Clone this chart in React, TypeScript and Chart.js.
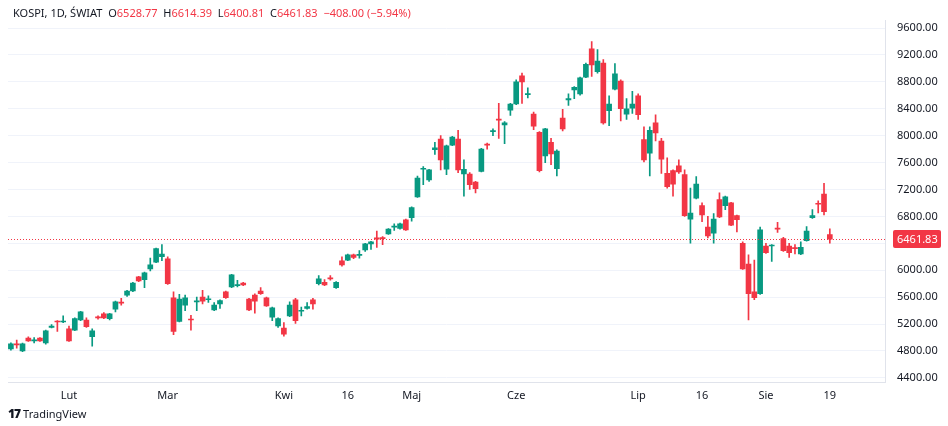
import React, { useEffect, useRef } from "react";
import { Chart, registerables } from "chart.js";
Chart.register(...registerables);

const opens = [4830,4900,4800,4990,4950,4990,4920,5150,5240,5230,5130,5110,5260,5260,5010,5300,5350,5280,5420,5520,5630,5690,5900,5860,6020,6120,6200,6170,5590,5240,5480,5270,5530,5600,5560,5410,5500,5680,5750,5770,5810,5570,5630,5690,5590,5300,5170,5140,5320,5560,5390,5430,5560,5800,5820,5880,5740,6140,6150,6230,6220,6300,6390,6480,6480,6540,6640,6620,6750,6780,7090,7500,7340,7790,7950,7500,7860,7950,7430,7430,7310,7470,7870,8060,8240,8160,8380,8470,8890,8610,8320,8050,7700,7900,7510,8260,8530,8680,8620,8870,9290,8950,9080,8370,8690,8810,8320,8410,8590,7940,7740,8190,7920,7440,7480,7550,7420,6760,7070,6960,6640,6550,7050,6960,7000,6810,6400,6090,5680,5650,6360,6360,6620,6470,6360,6330,6240,6440,6780,6990,7130,6528.77];
const closes = [4905,4890,4905,4950,4965,4950,5100,5170,5230,5240,4950,5280,5380,5160,5100,5290,5290,5350,5530,5510,5690,5810,5840,5960,6080,6320,6240,5800,5090,5570,5590,5260,5530,5540,5570,5480,5550,5590,5930,5770,5780,5410,5540,5650,5470,5440,5280,5050,5480,5250,5400,5460,5500,5870,5780,5870,5820,6080,6230,6190,6230,6390,6420,6460,6470,6610,6640,6690,6600,6930,7370,7500,7490,7820,7640,7850,7980,7490,7500,7270,7210,7800,7860,8070,8230,8190,8470,8800,8800,8620,8140,7480,8100,7730,7770,8100,8550,8720,8860,9060,9050,9110,8190,8470,8920,8400,8400,8470,8310,7640,8080,8040,7650,7240,7280,7460,6810,6850,7280,6820,6510,6760,6790,7090,6670,6750,6020,5650,5590,6600,6260,6360,6610,6290,6260,6320,6340,6580,6810,6980,6870,6461.83];
const highs = [4920,4960,4915,5010,5000,5000,5110,5190,5250,5320,5170,5290,5390,5290,5130,5320,5370,5360,5540,5580,5700,5820,5910,5970,6180,6330,6380,6200,5680,5640,5630,5330,5600,5700,5620,5520,5560,5690,5940,5850,5820,5580,5650,5740,5600,5450,5290,5220,5530,5580,5450,5520,5580,5920,5860,5920,5830,6200,6240,6240,6290,6400,6430,6580,6500,6620,6690,6700,6760,6940,7400,7540,7500,7900,8000,7860,7990,8080,7640,7450,7320,7810,7890,8100,8480,8210,8480,8830,8930,8710,8350,8060,8110,7960,7790,8390,8620,8730,8870,9080,9400,9280,9130,8590,9070,8830,8550,8660,8620,8130,8130,8310,7960,7670,7490,7640,7490,7220,7390,7000,6800,6840,7150,7100,7010,6820,6420,6230,6150,6640,6400,6380,6710,6490,6400,6380,6420,6650,6900,7030,7290,6614.39];
const lows = [4810,4840,4790,4940,4920,4940,4900,5140,5090,5220,4940,5100,5250,5150,4870,5270,5280,5260,5380,5480,5610,5680,5830,5740,5990,6110,6140,5790,5040,5230,5400,5110,5400,5500,5520,5400,5430,5580,5740,5750,5770,5400,5360,5640,5460,5250,5150,5020,5310,5210,5320,5420,5420,5780,5770,5850,5730,6060,6140,6170,6180,6280,6310,6340,6380,6530,6590,6610,6590,6730,7080,7270,7320,7720,7490,7420,7850,7450,7100,7200,7150,7460,7800,8000,7960,7880,8300,8460,8480,8560,8090,7460,7600,7570,7400,8070,8450,8550,8600,8860,8880,8930,8170,8150,8680,8220,8240,8330,8240,7610,7400,7920,7440,7220,7100,7440,6800,6400,7060,6720,6480,6400,6780,6900,6660,6570,6010,5260,5560,5640,6250,6130,6560,6280,6190,6240,6230,6430,6770,6850,6820,6400.81];
const tickLabels: Record<number, string> = { 10: "Lut", 27: "Mar", 47: "Kwi", 58: "16", 69: "Maj", 87: "Cze", 108: "Lip", 119: "16", 130: "Sie", 141: "19" };
const SLOTS = 151;
const lastPrice = 6461.83;

const GREEN = "#089981";
const RED = "#F23645";

export default function App() {
  const ref = useRef<HTMLCanvasElement>(null);
  useEffect(() => {
    const labels = Array.from({ length: SLOTS }, (_, i) => tickLabels[i] ?? "");
    const colors = opens.map((o, i) => (closes[i] >= o ? GREEN : RED));
    const priceLine = {
      id: "priceLine",
      afterDatasetsDraw(chart: any) {
        const { ctx, chartArea, scales } = chart;
        const y = scales.y.getPixelForValue(lastPrice);
        ctx.save();
        ctx.strokeStyle = RED;
        ctx.lineWidth = 1;
        ctx.setLineDash([1, 2]);
        ctx.beginPath();
        ctx.moveTo(chartArea.left, Math.round(y) + 0.5);
        ctx.lineTo(chartArea.right, Math.round(y) + 0.5);
        ctx.stroke();
        ctx.setLineDash([]);
        ctx.fillStyle = RED;
        const x0 = chartArea.right + 8;
        ctx.beginPath();
        (ctx as any).roundRect(x0, y - 9, 48, 18, 2);
        ctx.fill();
        ctx.fillStyle = "#fff";
        ctx.font = "11px 'Noto Sans', sans-serif";
        ctx.textBaseline = "middle";
        ctx.fillText(lastPrice.toFixed(2), x0 + 4, y + 0.5);
        ctx.restore();
      },
    };
    const chart = new Chart(ref.current!, {
      type: "bar",
      data: {
        labels,
        datasets: [
          {
            data: lows.map((l, i) => [l, highs[i]]) as any,
            backgroundColor: colors,
            barThickness: 1,
            grouped: false,
            order: 2,
          },
          {
            data: opens.map((o, i) => [o, closes[i]]) as any,
            backgroundColor: colors,
            barThickness: 5,
            minBarLength: 1,
            grouped: false,
            order: 1,
          },
        ],
      },
      options: {
        animation: false,
        responsive: true,
        maintainAspectRatio: false,
        layout: { padding: { left: 8, top: 20, right: 0, bottom: 18 } },
        plugins: { legend: { display: false }, tooltip: { enabled: false } },
        scales: {
          x: {
            grid: {
              color: (c: any) => (labels[c.index] ? "#f0f3fa" : "rgba(0,0,0,0)"),
              drawTicks: false,
            },
            border: { color: "#e0e3eb" },
            ticks: {
              autoSkip: false,
              maxRotation: 0,
              padding: 6,
              color: "#131722",
              font: { size: 11, family: "'Noto Sans', sans-serif" },
              callback: (_v: any, i: number) => labels[i] || null,
            },
          },
          y: {
            position: "right",
            min: 4326,
            max: 9719,
            afterBuildTicks: (s: any) => {
              const t = [];
              for (let v = 4400; v <= 9600; v += 400) t.push({ value: v });
              s.ticks = t;
            },
            afterFit: (s: any) => { s.width = 63; },
            grid: { color: "#f0f3fa", drawTicks: false },
            border: { color: "#e0e3eb" },
            ticks: {
              padding: 12,
              color: "#131722",
              font: { size: 11, family: "'Noto Sans', sans-serif" },
              callback: (v: any) => Number(v).toFixed(2),
            },
          },
        },
      },
      plugins: [priceLine],
    });
    return () => chart.destroy();
  }, []);
  const font = "'Noto Sans', sans-serif";
  return (
    <div style={{ position: "fixed", left: 0, top: 0, width: 948, height: 426, background: "#fff", fontFamily: font }}>
      <canvas ref={ref} />
      <div style={{ position: "absolute", left: 13, top: 5, fontSize: 11, color: "#131722", whiteSpace: "pre" }}>
        {"KOSPI, 1D, ŚWIAT  O"}<span style={{ color: RED }}>6528.77</span>{"  H"}
        <span style={{ color: RED }}>6614.39</span>{"  L"}
        <span style={{ color: RED }}>6400.81</span>{"  C"}
        <span style={{ color: RED }}>6461.83</span>{"  "}
        <span style={{ color: RED }}>−408.00 (−5.94%)</span>
      </div>
      <div style={{ position: "absolute", left: 8, top: 405, fontSize: 11, color: "#131722", display: "flex", alignItems: "center", gap: 3 }}>
        <span style={{ fontWeight: 900, fontSize: 12, letterSpacing: -1 }}>17</span>
        <span>TradingView</span>
      </div>
    </div>
  );
}
